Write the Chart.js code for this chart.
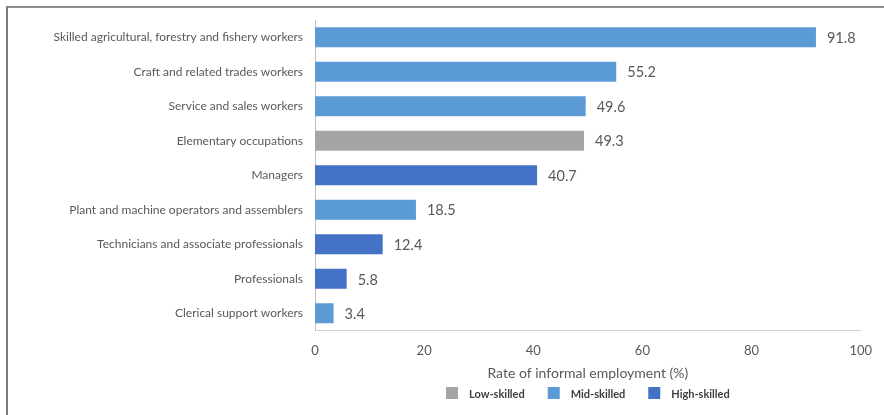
<!DOCTYPE html>
<html>
<head>
<meta charset="utf-8">
<script src="https://cdn.jsdelivr.net/npm/chart.js@4/dist/chart.umd.min.js"></script>
<style>
  html, body { margin: 0; padding: 0; background: #fff; overflow: hidden; }
  #wrap { position: relative; width: 884px; height: 415px; }
  #frame { position: absolute; left: 6px; top: 6px; width: 900px; height: 420px;
           border-top: 2px solid #8c8c8c; border-left: 2px solid #7a7a7a; pointer-events: none; }
  canvas { position: absolute; left: 0; top: 0; }
</style>
</head>
<body>
<div id="wrap">
  <canvas id="chart" width="884" height="415"></canvas>
  <div id="frame"></div>
</div>
<script>
// Occupations, top to bottom
const categories = [
  'Skilled agricultural, forestry and fishery workers',
  'Craft and related trades workers',
  'Service and sales workers',
  'Elementary occupations',
  'Managers',
  'Plant and machine operators and assemblers',
  'Technicians and associate professionals',
  'Professionals',
  'Clerical support workers'
];
// Rate of informal employment (%)
const values = [91.8, 55.2, 49.6, 49.3, 40.7, 18.5, 12.4, 5.8, 3.4];
// Skill level of each occupation
const skillLevel = ['Mid-skilled', 'Mid-skilled', 'Mid-skilled', 'Low-skilled', 'High-skilled',
                    'Mid-skilled', 'High-skilled', 'High-skilled', 'Mid-skilled'];
const skillGroups = ['Low-skilled', 'Mid-skilled', 'High-skilled'];
const groupColors = ['#a5a5a5', '#5b9bd5', '#4472c4'];
const xTicks = [0, 20, 40, 60, 80, 100];

const textColor = '#595959';
const fontFamily = 'Lato, "Open Sans", sans-serif';

const datasets = skillGroups.map((g, gi) => ({
  label: g,
  data: values.map((v, i) => skillLevel[i] === g ? v : null),
  backgroundColor: groupColors[gi],
  borderWidth: 0,
  barPercentage: 0.58,
  categoryPercentage: 1.0,
  grouped: false
}));

// Value labels at the end of each bar
const valueLabels = {
  id: 'valueLabels',
  afterDatasetsDraw(chart) {
    const ctx = chart.ctx;
    ctx.save();
    ctx.font = '14.5px ' + fontFamily;
    ctx.fillStyle = textColor;
    ctx.textAlign = 'left';
    ctx.textBaseline = 'middle';
    chart.data.datasets.forEach((ds, di) => {
      const meta = chart.getDatasetMeta(di);
      meta.data.forEach((bar, i) => {
        const v = ds.data[i];
        if (v === null || v === undefined) return;
        ctx.fillText(v.toFixed(1), bar.x + 11, bar.y + 1);
      });
    });
    ctx.restore();
  }
};

// Skill-level key, centred under the plot area
const skillKey = {
  id: 'skillKey',
  afterDraw(chart) {
    const ctx = chart.ctx;
    const area = chart.chartArea;
    const box = 12, textGap = 11, itemGap = 23;
    ctx.save();
    ctx.font = 'bold 11px ' + fontFamily;
    const items = chart.data.datasets.map(ds => ({
      label: ds.label, color: ds.backgroundColor, w: ctx.measureText(ds.label).width
    }));
    const total = items.reduce((s, it) => s + box + textGap + it.w, 0) + itemGap * (items.length - 1);
    let x = (area.left + area.right) / 2 - total / 2;
    const y = chart.height - 22;
    ctx.textBaseline = 'middle';
    ctx.textAlign = 'left';
    items.forEach(it => {
      ctx.fillStyle = it.color;
      ctx.fillRect(x, y - box / 2, box, box);
      ctx.fillStyle = '#404040';
      ctx.fillText(it.label, x + box + textGap, y + 1);
      x += box + textGap + it.w + itemGap;
    });
    ctx.restore();
  }
};

new Chart(document.getElementById('chart'), {
  type: 'bar',
  data: { labels: categories, datasets },
  options: {
    indexAxis: 'y',
    responsive: false,
    animation: false,
    devicePixelRatio: 1,
    layout: { padding: { top: 20, right: 22, left: 0, bottom: 28 } },
    scales: {
      x: {
        min: 0, max: 100,
        afterBuildTicks: s => { s.ticks = xTicks.map(v => ({ value: v })); },
        grid: { display: false, drawTicks: false },
        border: { display: true, color: '#d0d0d0', width: 1 },
        ticks: { color: textColor, font: { family: fontFamily, size: 13 }, padding: 12 },
        title: {
          display: true,
          text: 'Rate of informal employment (%)',
          color: textColor,
          font: { family: fontFamily, size: 14 },
          padding: { top: -5, bottom: 5 }
        }
      },
      y: {
        afterFit: s => { s.width = 315; },
        grid: { display: false, drawTicks: false },
        border: { display: true, color: '#bfbfbf', width: 1 },
        ticks: { color: textColor, font: { family: fontFamily, size: 12 }, padding: 12 }
      }
    },
    plugins: {
      legend: { display: false },
      tooltip: { enabled: false }
    }
  },
  plugins: [valueLabels, skillKey]
});
</script>
</body>
</html>
